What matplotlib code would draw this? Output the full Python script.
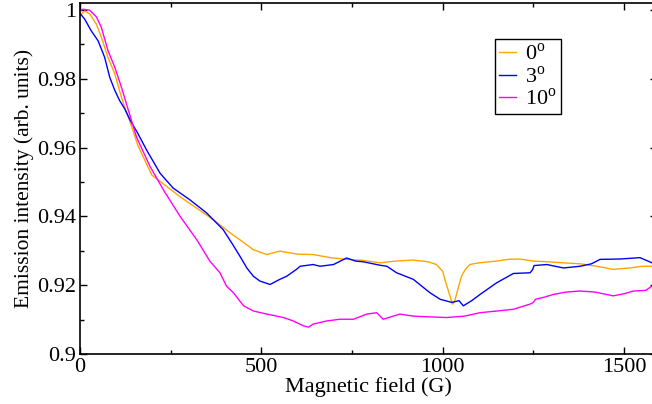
import matplotlib
matplotlib.use("Agg")
import matplotlib.pyplot as plt

plt.rcParams['font.family'] = ['Liberation Serif', 'DejaVu Serif']
plt.rcParams['mathtext.fontset'] = 'custom'
plt.rcParams['mathtext.rm'] = 'Liberation Serif'

# 0 degree series
x0 = [0, 13, 27, 45, 59, 77, 96, 114, 123, 138, 160, 198, 239, 276, 320, 368, 414, 450,
      478, 515, 551, 600, 643, 690, 735, 780, 827, 870, 919, 960, 983, 1000, 1006, 1014,
      1020, 1027, 1032, 1037, 1045, 1052, 1062, 1075, 1100, 1149, 1180, 1213, 1250, 1290,
      1333, 1380, 1425, 1470, 1516, 1550, 1577, 1600]
y0 = [0.9983, 0.9997, 0.9988, 0.9959, 0.9920, 0.9862, 0.9814, 0.9747, 0.9718, 0.9675,
      0.9605, 0.9520, 0.9487, 0.9457, 0.9425, 0.9390, 0.9352, 0.9325, 0.9303, 0.9289,
      0.9299, 0.9290, 0.9289, 0.9280, 0.9275, 0.9272, 0.9265, 0.9270, 0.9273, 0.9268,
      0.9260, 0.9240, 0.9217, 0.9190, 0.9169, 0.9145, 0.9150, 0.9169, 0.9200, 0.9226,
      0.9245, 0.9260, 0.9265, 0.9270, 0.9275, 0.9276, 0.9270, 0.9268, 0.9265, 0.9262,
      0.9255, 0.9246, 0.9250, 0.9255, 0.9255, 0.9258]

# 3 degree series
x3 = [0, 13, 31, 50, 68, 82, 96, 109, 123, 138, 160, 184, 221, 257, 303, 349, 395, 420,
      441, 460, 478, 496, 524, 551, 570, 597, 607, 643, 662, 699, 735, 760, 781, 827, 846,
      873, 919, 965, 993, 1025, 1045, 1057, 1080, 1103, 1149, 1195, 1241, 1248, 1252, 1287,
      1333, 1379, 1410, 1434, 1489, 1544, 1577, 1600]
y3 = [0.9990, 0.9973, 0.9939, 0.9910, 0.9862, 0.9804, 0.9766, 0.9737, 0.9713, 0.9680,
      0.9640, 0.9592, 0.9525, 0.9482, 0.9448, 0.9410, 0.9361, 0.9320, 0.9284, 0.9250,
      0.9226, 0.9212, 0.9202, 0.9217, 0.9226, 0.9246, 0.9255, 0.9260, 0.9255, 0.9260,
      0.9279, 0.9270, 0.9268, 0.9258, 0.9255, 0.9236, 0.9217, 0.9178, 0.9159, 0.9150,
      0.9155, 0.9140, 0.9155, 0.9173, 0.9207, 0.9234, 0.9236, 0.9245, 0.9257, 0.9260,
      0.9250, 0.9255, 0.9262, 0.9275, 0.9276, 0.9280, 0.9265, 0.9270]

# 10 degree series
x10 = [0, 8, 27, 45, 59, 77, 96, 114, 132, 156, 193, 230, 276, 322, 358, 386, 404, 423,
       451, 478, 515, 561, 588, 616, 630, 643, 680, 717, 754, 791, 818, 836, 882, 919, 960,
       1011, 1060, 1103, 1150, 1195, 1241, 1250, 1256, 1280, 1305, 1340, 1379, 1420, 1470,
       1500, 1526, 1560, 1577, 1600]
y10 = [0.9997, 1.0002, 0.9999, 0.9980, 0.9949, 0.9882, 0.9833, 0.9776, 0.9713, 0.9630,
       0.9545, 0.9477, 0.9400, 0.9332, 0.9270, 0.9236, 0.9197, 0.9178, 0.9140, 0.9125,
       0.9116, 0.9106, 0.9096, 0.9082, 0.9078, 0.9087, 0.9096, 0.9101, 0.9101, 0.9116,
       0.9120, 0.9101, 0.9116, 0.9110, 0.9108, 0.9106, 0.9110, 0.9120, 0.9125, 0.9130,
       0.9145, 0.9150, 0.9159, 0.9165, 0.9173, 0.9180, 0.9183, 0.9180, 0.9169, 0.9175,
       0.9183, 0.9185, 0.9197, 0.9200]

labels = ['0$^{\\mathrm{o}}$', '3$^{\\mathrm{o}}$', '10$^{\\mathrm{o}}$']
colors = ['#FFA500', '#0000FF', '#FF00FF']
xticks = [0, 500, 1000, 1500]
yticks = [0.9, 0.92, 0.94, 0.96, 0.98, 1.0]
ytick_labels = ['0.9', '0.92', '0.94', '0.96', '0.98', '1']

fig = plt.figure(figsize=(6.52, 4.04), dpi=100)
ax = fig.add_axes([80 / 652, 50 / 404, 577 / 652, 351 / 404])

for xs, ys, lab, c in zip([x0, x3, x10], [y0, y3, y10], labels, colors):
    ax.plot(xs, ys, color=c, lw=1.0, label=lab)

ax.set_xlim(0, 1591)
ax.set_ylim(0.9, 1.002)
ax.set_xticks(xticks)
ax.set_xticks([250, 750, 1250], minor=True)
ax.set_yticks(yticks)
ax.set_yticklabels(ytick_labels)
ax.set_yticks([0.91, 0.93, 0.95, 0.97, 0.99], minor=True)
ax.tick_params(which='both', direction='in', top=True, right=True, labelsize=16, width=1.0)
ax.tick_params(which='major', length=5, pad=3)
ax.tick_params(which='minor', length=3)
for s in ax.spines.values():
    s.set_linewidth(1.2)

ax.set_xlabel('Magnetic field (G)', fontsize=16, labelpad=0)
ax.set_ylabel('Emission intensity (arb. units)', fontsize=15.5, labelpad=2)

leg = ax.legend(loc='upper left', bbox_to_anchor=(0.719, 0.897), borderaxespad=0,
                fontsize=16, handlelength=0.75, handletextpad=0.4, labelspacing=0.05,
                borderpad=0.2, fancybox=False, framealpha=1)
leg.get_frame().set_edgecolor('black')
leg.get_frame().set_linewidth(1.0)

fig.savefig('out.png', dpi=100)
